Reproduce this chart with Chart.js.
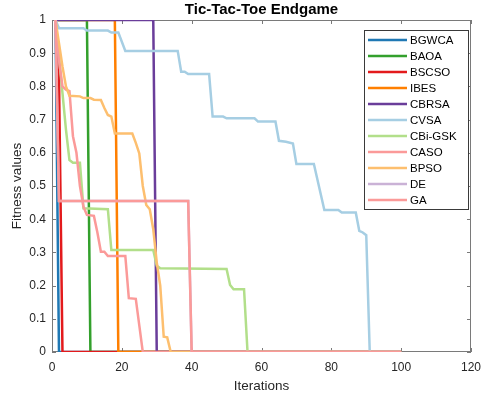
<!DOCTYPE html>
<html>
<head>
<meta charset="utf-8">
<script src="https://cdn.jsdelivr.net/npm/chart.js@4.4.1/dist/chart.umd.min.js"></script>
<style>
  html, body { margin: 0; padding: 0; background: #fff; }
  #chart { display: block; }
</style>
</head>
<body>
<canvas id="chart" width="483" height="396"></canvas>
<script>
// convergence curves, breakpoints (iteration, best fitness)
const seriesNames = ['BGWCA', 'BAOA', 'BSCSO', 'IBES', 'CBRSA', 'CVSA', 'CBi-GSK', 'CASO', 'BPSO', 'DE', 'GA'];
const seriesColors = ['#1f78b4', '#33a02c', '#e31a1c', '#ff7f00', '#6a3d9a', '#a6cee3', '#b2df8a', '#fb9a99', '#fdbf6f', '#cab2d6', '#fb9a99'];

const bgwcaX = [1, 2, 100];
const bgwcaY = [1, 0, 0];
const baoaX = [1, 10, 11, 100];
const baoaY = [1, 1, 0, 0];
const bscsoX = [1, 2, 3, 100];
const bscsoY = [1, 0.83, 0, 0];
const ibesX = [1, 18, 19, 100];
const ibesY = [1, 1, 0, 0];
const cbrsaX = [1, 29, 30, 100];
const cbrsaY = [1, 1, 0, 0];
const cvsaX = [1, 2, 9, 10, 16, 17, 19, 21, 36, 37, 38, 39, 45, 46, 49, 50, 58, 59, 64, 65, 67, 69, 70, 75, 78, 82, 83, 87, 88, 89, 90, 91, 100];
const cvsaY = [1, 0.975, 0.975, 0.968, 0.968, 0.962, 0.962, 0.907, 0.907, 0.844, 0.844, 0.837, 0.837, 0.709, 0.709, 0.704, 0.704, 0.694, 0.694, 0.636, 0.633, 0.628, 0.566, 0.566, 0.428, 0.428, 0.42, 0.42, 0.365, 0.36, 0.352, 0, 0];
const cbiX = [1, 2, 3, 4, 5, 6, 8, 9, 16, 17, 29, 30, 31, 50, 51, 52, 55, 56, 100];
const cbiY = [1, 0.89, 0.78, 0.67, 0.578, 0.57, 0.57, 0.433, 0.43, 0.307, 0.307, 0.26, 0.252, 0.25, 0.202, 0.189, 0.189, 0, 0];
const casoX = [1, 2, 3, 4, 5, 6, 7, 8, 9, 10, 12, 13, 14, 15, 16, 21, 22, 24, 25, 26, 100];
const casoY = [1, 0.88, 0.8, 0.79, 0.786, 0.65, 0.6, 0.5, 0.438, 0.413, 0.41, 0.36, 0.302, 0.302, 0.289, 0.289, 0.162, 0.16, 0.08, 0, 0];
const bpsoX = [1, 2, 3, 4, 5, 8, 9, 11, 12, 14, 15, 16, 17, 18, 23, 24, 25, 26, 27, 28, 29, 30, 31, 32, 33, 34, 100];
const bpsoY = [1, 0.93, 0.86, 0.8, 0.772, 0.77, 0.765, 0.765, 0.76, 0.759, 0.735, 0.714, 0.709, 0.658, 0.658, 0.63, 0.598, 0.5, 0.443, 0.43, 0.37, 0.27, 0.2, 0.046, 0.044, 0, 0];
// DE is not visible in the figure; assumed to lie under GA
const deX = [1, 2, 39, 40, 100];
const deY = [1, 0.455, 0.455, 0, 0];
const gaX = [1, 2, 39, 40, 100];
const gaY = [1, 0.455, 0.455, 0, 0];

const seriesX = [bgwcaX, baoaX, bscsoX, ibesX, cbrsaX, cvsaX, cbiX, casoX, bpsoX, deX, gaX];
const seriesY = [bgwcaY, baoaY, bscsoY, ibesY, cbrsaY, cvsaY, cbiY, casoY, bpsoY, deY, gaY];

const xTicks = [0, 20, 40, 60, 80, 100, 120];
const yTicks = [0, 0.1, 0.2, 0.3, 0.4, 0.5, 0.6, 0.7, 0.8, 0.9, 1];

const FONT = "'Liberation Sans', Arial, Helvetica, sans-serif";
const TEXT = '#262626';
const AXIS = '#7a7a7a';

const datasets = seriesNames.map((name, i) => ({
  label: name,
  data: seriesX[i].map((x, k) => ({ x: x, y: seriesY[i][k] })),
  borderColor: seriesColors[i],
  backgroundColor: seriesColors[i],
  borderWidth: 2.5,
  pointRadius: 0,
  tension: 0,
  fill: false,
  order: seriesNames.length - i   // later series on top, like MATLAB
}));

// box round the axes + inward tick marks (drawn under the lines)
const axesBox = {
  id: 'axesBox',
  beforeDatasetsDraw(chart) {
    const { ctx, chartArea: a, scales } = chart;
    ctx.save();
    ctx.strokeStyle = AXIS;
    ctx.lineWidth = 1;
    ctx.strokeRect(Math.round(a.left) + 0.5, Math.round(a.top) + 0.5,
      Math.round(a.right - a.left) - 1, Math.round(a.bottom - a.top) - 1);
    ctx.beginPath();
    xTicks.forEach(v => {
      const px = Math.round(scales.x.getPixelForValue(v)) + 0.5;
      ctx.moveTo(px, a.bottom); ctx.lineTo(px, a.bottom - 4);
      ctx.moveTo(px, a.top); ctx.lineTo(px, a.top + 4);
    });
    yTicks.forEach(v => {
      const py = Math.round(scales.y.getPixelForValue(v)) + 0.5;
      ctx.moveTo(a.left, py); ctx.lineTo(a.left + 4, py);
      ctx.moveTo(a.right, py); ctx.lineTo(a.right - 4, py);
    });
    ctx.stroke();
    ctx.restore();
  }
};

// MATLAB-style legend inside the axes, top right
const insideLegend = {
  id: 'insideLegend',
  afterDraw(chart) {
    const { ctx } = chart;
    const left = 364, top = 30, right = 469, step = 16;
    const bottom = top + 10 + step * (seriesNames.length - 1) + 10;
    ctx.save();
    ctx.fillStyle = '#fff';
    ctx.fillRect(left, top, right - left, bottom - top);
    ctx.strokeStyle = '#3a3a3a';
    ctx.lineWidth = 1;
    ctx.strokeRect(left + 0.5, top + 0.5, right - left - 1, bottom - top - 1);
    ctx.font = '11.5px ' + FONT;
    ctx.textBaseline = 'middle';
    ctx.textAlign = 'left';
    seriesNames.forEach((name, i) => {
      const yy = top + 10 + i * step;
      ctx.strokeStyle = seriesColors[i];
      ctx.lineWidth = 2.5;
      ctx.beginPath();
      ctx.moveTo(368, yy);
      ctx.lineTo(407, yy);
      ctx.stroke();
      ctx.fillStyle = '#000';
      ctx.fillText(name, 410, yy + 0.5);
    });
    ctx.restore();
  }
};

new Chart(document.getElementById('chart'), {
  type: 'line',
  data: { datasets: datasets },
  options: {
    responsive: false,
    animation: false,
    devicePixelRatio: 1,
    layout: { padding: { left: 0, right: 12, top: 0, bottom: 0 } },
    plugins: {
      legend: { display: false },
      tooltip: { enabled: false },
      title: {
        display: true,
        fullSize: false,
        text: 'Tic-Tac-Toe Endgame',
        color: '#000',
        font: { family: FONT, size: 15, weight: 'bold', lineHeight: 1.2 },
        padding: { top: 1, bottom: 1 }
      }
    },
    scales: {
      x: {
        type: 'linear',
        min: 0,
        max: 120,
        afterFit: s => { s.height = 44; s.paddingLeft = 0; s.paddingRight = 0; },
        afterBuildTicks: s => { s.ticks = xTicks.map(v => ({ value: v })); },
        grid: { display: false, drawTicks: false },
        border: { display: false },
        ticks: { color: TEXT, font: { family: FONT, size: 12 }, padding: 8, maxRotation: 0 },
        title: {
          display: true, text: 'Iterations', color: TEXT,
          font: { family: FONT, size: 13.5 }, padding: { top: 0, bottom: 2 }
        }
      },
      y: {
        type: 'linear',
        min: 0,
        max: 1,
        afterFit: s => { s.width = 52; s.paddingTop = 0; s.paddingBottom = 0; },
        afterBuildTicks: s => { s.ticks = yTicks.map(v => ({ value: v })); },
        grid: { display: false, drawTicks: false },
        border: { display: false },
        ticks: { color: TEXT, font: { family: FONT, size: 12 }, padding: 6, callback: v => String(+v.toFixed(1)) },
        title: {
          display: true, text: 'Fitness values', color: TEXT,
          font: { family: FONT, size: 13.5 }, padding: { top: 9, bottom: 0 }
        }
      }
    }
  },
  plugins: [axesBox, insideLegend]
});
</script>
</body>
</html>
